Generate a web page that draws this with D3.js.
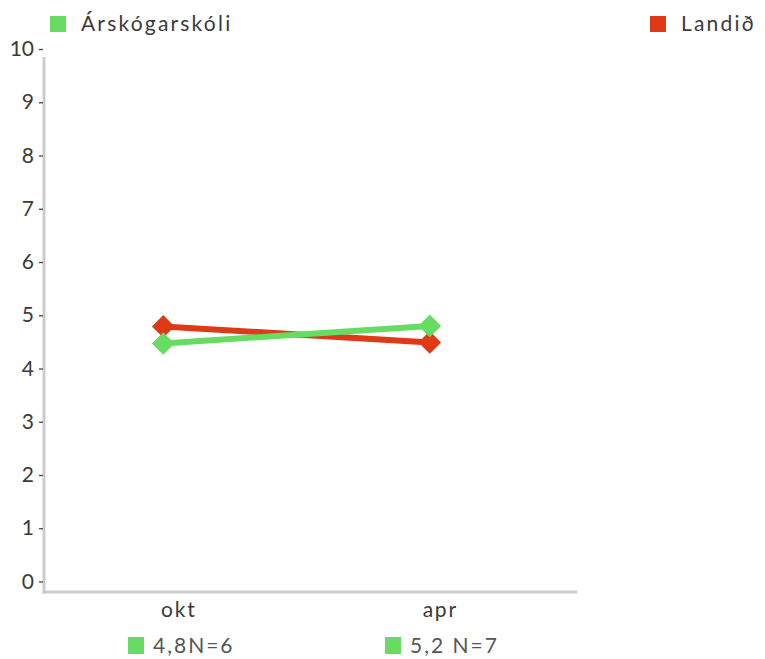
<!DOCTYPE html>
<html>
<head>
<meta charset="utf-8">
<script src="https://cdn.jsdelivr.net/npm/d3@7"></script>
<style>
  body { margin: 0; background: #fff; }
  svg { display: block; }
  text { font-family: Lato, "Open Sans", sans-serif; }
</style>
</head>
<body>
<div id="chart"></div>
<script>
// ---- data ----
const categories = ["okt", "apr"];
const seriesNames = ["Landið", "Árskógarskóli"];
const seriesColors = ["#dd3a15", "#67dc62"];
const landidValues = [4.79, 4.49];
const skoliValues = [4.47, 4.80];
const yTicks = [0, 1, 2, 3, 4, 5, 6, 7, 8, 9, 10];
const footLabels = ["4,8N=6", "5,2 N=7"];

const W = 765, H = 659;
const svg = d3.select("#chart").append("svg").attr("width", W).attr("height", H);

const y = d3.scaleLinear().domain([0, 10]).range([581.5, 49]);
const xPoint = d3.scalePoint().domain(categories).range([30, 563]).padding(0.5);
const xLabel = d3.scaleBand().domain(categories).range([48, 571]);

// axes lines
svg.append("line").attr("x1", 44).attr("x2", 44).attr("y1", 57).attr("y2", 593.5)
  .attr("stroke", "#cccccc").attr("stroke-width", 3);
svg.append("line").attr("x1", 42.5).attr("x2", 577).attr("y1", 592).attr("y2", 592)
  .attr("stroke", "#cccccc").attr("stroke-width", 3);

// y axis
const yAxis = d3.axisLeft(y).tickValues(yTicks).tickSize(4).tickPadding(5).tickFormat(d3.format("d"));
const gy = svg.append("g").attr("transform", "translate(43,0)").call(yAxis);
gy.select(".domain").remove();
gy.selectAll(".tick line").attr("stroke", "#444").attr("stroke-width", 1.3);
gy.selectAll(".tick text").attr("fill", "#3a3a3a").style("font-size", "21px")
  .style("font-family", "Lato, sans-serif");

// x labels
const xAxis = d3.axisBottom(xLabel).tickSize(0).tickPadding(9);
const gx = svg.append("g").attr("transform", "translate(0,593)").call(xAxis);
gx.select(".domain").remove();
gx.selectAll(".tick text").attr("fill", "#3a3a3a").style("font-size", "21px")
  .style("letter-spacing", "1.8px").style("font-family", "Lato, sans-serif");

// series
const series = [
  { name: seriesNames[0], color: seriesColors[0], values: landidValues },
  { name: seriesNames[1], color: seriesColors[1], values: skoliValues }
];
const line = d3.line().x((d, i) => xPoint(categories[i])).y(d => y(d));
series.forEach(s => {
  svg.append("path").datum(s.values).attr("d", line)
    .attr("fill", "none").attr("stroke", s.color).attr("stroke-width", 6);
});
const diamond = d3.symbol().type(d3.symbolSquare).size(256);
series.forEach(s => {
  svg.append("g").selectAll("path").data(s.values).join("path")
    .attr("d", diamond)
    .attr("transform", (d, i) => `translate(${xPoint(categories[i])},${y(d)}) rotate(45)`)
    .attr("fill", s.color);
});

// legend
const legendItems = [
  { name: seriesNames[1], color: seriesColors[1], x: 50 },
  { name: seriesNames[0], color: seriesColors[0], x: 650 }
];
legendItems.forEach(l => {
  svg.append("rect").attr("x", l.x).attr("y", 16).attr("width", 16).attr("height", 16).attr("fill", l.color);
  svg.append("text").attr("x", l.x + 31).attr("y", 31).text(l.name)
    .attr("fill", "#3a3a3a").style("font-size", "21px").style("letter-spacing", "2.2px");
});

// foot labels
const footX = [128, 385];
categories.forEach((c, i) => {
  svg.append("rect").attr("x", footX[i]).attr("y", 637).attr("width", 16).attr("height", 17).attr("fill", seriesColors[1]);
  svg.append("text").attr("x", footX[i] + 25).attr("y", 653).text(footLabels[i])
    .attr("fill", "#555").style("font-size", "21px").style("letter-spacing", "2px");
});
</script>
</body>
</html>
